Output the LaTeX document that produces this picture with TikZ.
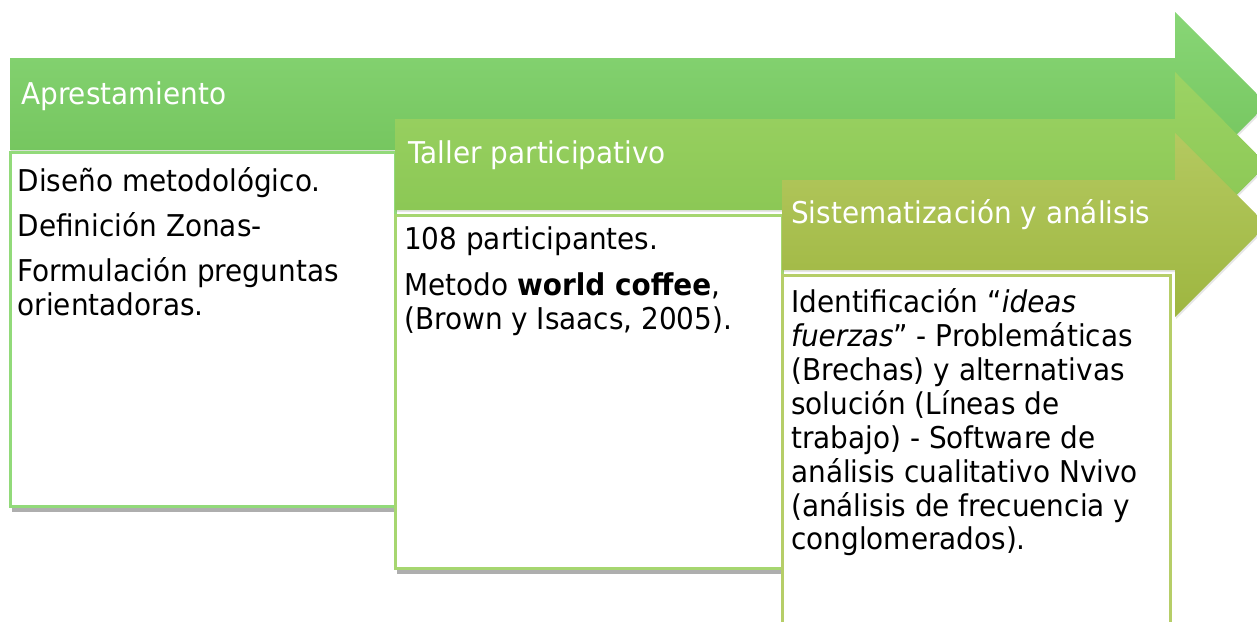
\documentclass[tikz,border=0pt]{standalone}
\usepackage{fontspec}
\setmainfont{DejaVu Sans}[FakeStretch=0.93]
\usetikzlibrary{shadows}
\definecolor{aOneTop}{RGB}{136,214,118}
\definecolor{aOneBot}{RGB}{112,193,88}
\definecolor{aTwoTop}{RGB}{156,211,100}
\definecolor{aTwoBot}{RGB}{134,196,80}
\definecolor{aThrTop}{RGB}{180,201,96}
\definecolor{aThrBot}{RGB}{158,182,64}
\definecolor{bOne}{RGB}{146,218,122}
\definecolor{bTwo}{RGB}{166,214,112}
\definecolor{bThr}{RGB}{182,206,104}
\begin{document}
\begin{tikzpicture}[x=1pt,y=-1pt,
  arrowshape/.style={draw=none, drop shadow={shadow xshift=1pt, shadow yshift=-2pt, opacity=0.2}},
  boxshape/.style={fill=white, line width=3pt, drop shadow={shadow xshift=2pt, shadow yshift=-6pt, opacity=0.45, fill=black!70}},
  ttl/.style={anchor=base west, inner sep=0pt, text=white, font=\fontsize{30}{34}\selectfont},
  txt/.style={anchor=base west, inner sep=0pt, text=black, font=\fontsize{30}{34}\selectfont}]
\useasboundingbox (0,0) rectangle (1257,621);
\clip (0,0) rectangle (1257,621);
% stage 1
\path[arrowshape, top color=aOneTop, bottom color=aOneBot]
  (10,58) -- (1175,58) -- (1175,12) -- (1267,104) -- (1175,196) -- (1175,150) -- (10,150) -- cycle;
\node[ttl] (t1) at (21,104) {Apresta\-miento};
\path[boxshape, draw=bOne] (10,152) rectangle (395,506);
\node[txt] (b1a) at (17.5,191) {Diseño metodológico.};
\node[txt] (b1b) at (17.5,236) {Definición Zonas-};
\node[txt] (b1c) at (17.5,281) {Formulación preguntas};
\node[txt] (b1d) at (17.5,315) {orientadoras.};
% stage 2
\path[arrowshape, top color=aTwoTop, bottom color=aTwoBot]
  (395,119) -- (1175,119) -- (1175,72) -- (1267,164.5) -- (1175,257) -- (1175,210) -- (395,210) -- cycle;
\node[ttl] (t2) at (408,163) {Taller participativo};
\path[boxshape, draw=bTwo] (395,215) rectangle (782,568);
\node[txt] (b2a) at (404,249) {108 participantes.};
\node[txt] (b2b) at (404,295) {Metodo \textbf{world coffee},};
\node[txt] (b2c) at (404,329) {(Brown y Isaacs, 2005).};
% stage 3
\path[arrowshape, top color=aThrTop, bottom color=aThrBot]
  (782,180) -- (1175,180) -- (1175,133) -- (1267,225) -- (1175,317) -- (1175,270) -- (782,270) -- cycle;
\node[ttl] (t3) at (791,223) {Sistematización y análisis};
\path[boxshape, draw=bThr] (782,275) rectangle (1170,640);
\node[txt] (b3a) at (791,312) {Identificación “\textit{ideas}};
\node[txt] (b3b) at (791,346) {\textit{fuerzas}” - Problemáticas};
\node[txt] (b3c) at (791,380) {(Brechas) y alternativas};
\node[txt] (b3d) at (791,414) {solución (Líneas de};
\node[txt] (b3e) at (791,448) {trabajo) - Software de};
\node[txt] (b3f) at (791,482) {análisis cualitativo Nvivo};
\node[txt] (b3g) at (791,516) {(análisis de frecuencia y};
\node[txt] (b3h) at (791,549) {conglomerados).};
\end{tikzpicture}
\end{document}
